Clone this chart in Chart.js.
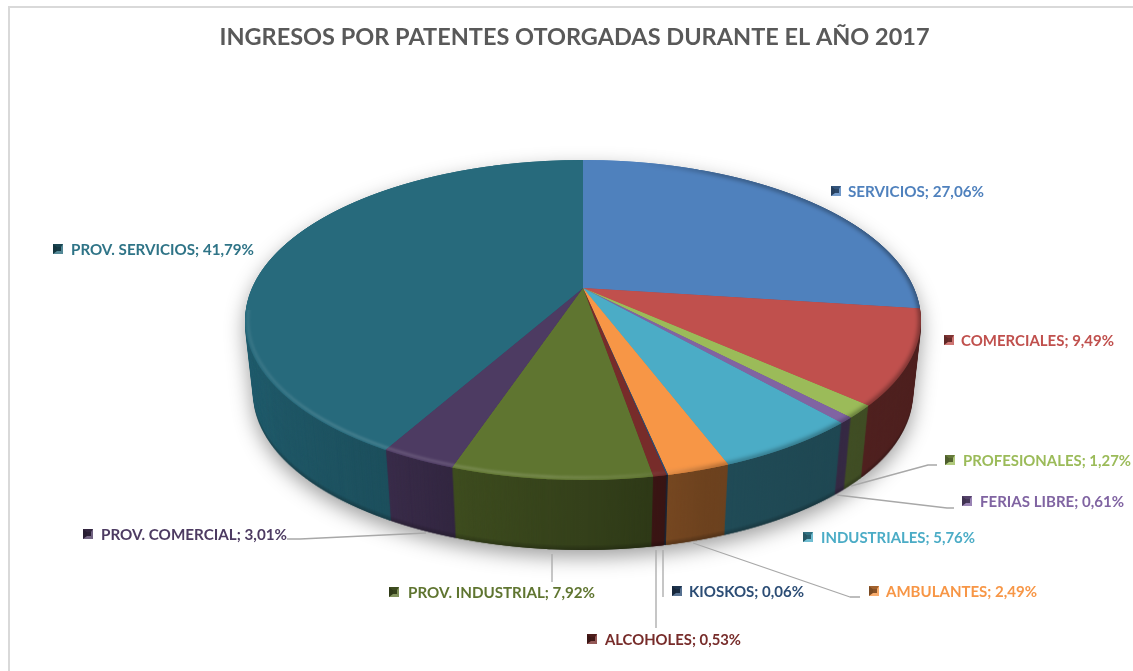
<!DOCTYPE html>
<html lang="es">
<head>
<meta charset="utf-8">
<title>Ingresos por patentes</title>
<script src="https://cdn.jsdelivr.net/npm/chart.js@4"></script>
<style>html,body{margin:0;padding:0;background:#fff}canvas{display:block}</style>
</head>
<body>
<canvas id="c" width="1133" height="671"></canvas>
<script>
const categories = ["SERVICIOS","COMERCIALES","PROFESIONALES","FERIAS LIBRE","INDUSTRIALES","AMBULANTES","KIOSKOS","ALCOHOLES","PROV. INDUSTRIAL","PROV. COMERCIAL","PROV. SERVICIOS"];
const shares = [27.06,9.49,1.27,0.61,5.76,2.49,0.06,0.53,7.92,3.01,41.79];
const sliceColors = ["#4f81bd","#c0504d","#9bbb59","#8064a2","#4bacc6","#f79646","#2c4d75","#772c2a","#5f7530","#4d3b62","#276a7c"];
const titleText = "INGRESOS POR PATENTES OTORGADAS DURANTE EL AÑO 2017";

// label layout: [marker centre x, marker centre y, text start x, text width]
const labelBoxes = [[836,191,848,136],[949,340,961,153],[950,460,963,168],[967,501,980,144],[808,537,821,154],[874,591,886,151],[677,591,689,115],[592,639,605,136],[394,592,408,187],[88,534,101,186],[58,249,71,183]];
const leaderLines = [null,null,[[851,486],[928,465],[937,465]],[[837,495],[947,508],[954,508]],null,[[693,543],[850,597],[860,597]],[[663,550],[663,597]],[[656,550],[656,628]],[[552,554],[552,582]],[[426,533],[300,539],[287,539]],null];

// projection of the flat pie onto the tilted view
const view = {cx:583, cy:288, a:331, b:153.6, k:0.2, top:-128, bottom:192, depth:74.8, shrink:0.975, wallH:70};

function blank(){const c=document.createElement('canvas');c.width=1133;c.height=671;return c;}

function renderFlat(chart){
  const cv=blank(), g=cv.getContext('2d');
  const els=chart.getDatasetMeta(0).data;
  const R=els[0].outerRadius, ox=els[0].x, oy=els[0].y;
  for(let r=view.top;r<view.bottom;r++){
    const yc=r+0.5, Y=yc/(view.b+view.k*yc), w=1-view.k*Y;
    const sx=view.a/w/R, sy=view.b/(w*w)/R;
    g.save();
    g.beginPath();g.rect(0,view.cy+r,1133,1);g.clip();
    g.setTransform(sx,0,0,sy,view.cx-sx*ox,view.cy+yc-sy*(oy+Y*R));
    for(let pass=0;pass<2;pass++)els.forEach(e=>e.draw(g));
    g.restore();
  }
  return cv;
}

function renderTop(flat){
  const cv=blank(), g=cv.getContext('2d');
  g.drawImage(flat,0,0);
  // rim: soft highlight on the near-left edge, soft shade on the right edge
  const ecy=view.cy+(view.top+view.bottom)/2, erx=338, ery=(view.bottom-view.top)/2;
  g.globalCompositeOperation='source-atop';
  const hi=g.createLinearGradient(245,0,921,0);
  hi.addColorStop(0,'rgba(255,255,255,.08)');hi.addColorStop(.12,'rgba(255,255,255,.14)');hi.addColorStop(.45,'rgba(255,255,255,.16)');hi.addColorStop(.62,'rgba(255,255,255,.06)');hi.addColorStop(.7,'rgba(255,255,255,0)');
  g.filter='blur(1px)';
  g.strokeStyle=hi;g.lineWidth=2.5;
  g.save();g.beginPath();g.rect(0,ecy-10,1133,400);g.clip();
  g.beginPath();g.ellipse(view.cx,ecy,erx-3,ery-2.5,0,0,Math.PI*2);g.stroke();g.restore();
  const lo=g.createLinearGradient(245,0,921,0);
  lo.addColorStop(.58,'rgba(0,0,0,0)');lo.addColorStop(.7,'rgba(0,0,0,.3)');lo.addColorStop(1,'rgba(0,0,0,.4)');
  g.filter='blur(2px)';
  g.strokeStyle=lo;g.lineWidth=5;
  g.beginPath();g.ellipse(view.cx,ecy,erx,ery,0,0,Math.PI*2);g.stroke();
  g.filter='none';
  g.globalCompositeOperation='source-over';
  return cv;
}

function renderWall(flat){
  const cv=blank(), g=cv.getContext('2d');
  for(let d=view.wallH;d>=1;d--){
    const t=d/view.wallH, s=1-(1-view.shrink)*t, dy=view.depth*t;
    g.setTransform(s,0,0,s,view.cx*(1-s),view.cy*(1-s)+dy);
    g.drawImage(flat,0,0);
    g.setTransform(1,0,0,1,0,0);
    if(d>view.wallH-5){g.globalCompositeOperation='source-atop';g.fillStyle='rgba(0,0,0,.05)';g.fillRect(0,0,1133,671);g.globalCompositeOperation='source-over';}
  }
  const sh=g.createLinearGradient(245,0,921,0);
  [[0,.12],[.06,.18],[.21,.25],[.33,.36],[.55,.48],[.68,.56],[1,.6]].forEach(p=>sh.addColorStop(p[0],'rgba(0,0,0,'+p[1]+')'));
  g.globalCompositeOperation='source-atop';g.fillStyle=sh;g.fillRect(0,0,1133,671);
  g.globalCompositeOperation='source-over';
  return cv;
}

function marker(ctx,mx,my,col){
  const h=5,x0=mx-h,x1=mx+h,y0=my-h,y1=my+h,ix0=mx-1,ix1=mx+3,iy0=my-2,iy1=my+2;
  ctx.fillStyle=col;ctx.fillRect(x0,y0,10,10);
  const tri=(pts,fill)=>{ctx.fillStyle=fill;ctx.beginPath();pts.forEach((p,i)=>i?ctx.lineTo(p[0],p[1]):ctx.moveTo(p[0],p[1]));ctx.closePath();ctx.fill();};
  tri([[x0,y0],[x1,y0],[ix1,iy0],[ix0,iy0]],'rgba(0,0,0,.35)');
  tri([[x0,y0],[ix0,iy0],[ix0,iy1],[x0,y1]],'rgba(0,0,0,.5)');
  tri([[x0,y1],[x1,y1],[ix1,iy1],[ix0,iy1]],'rgba(255,255,255,.22)');
  tri([[x1,y0],[x1,y1],[ix1,iy1],[ix1,iy0]],'rgba(255,255,255,.2)');
  tri([[ix0,iy0],[ix1,iy0],[ix1,iy1],[ix0,iy1]],'rgba(0,0,0,.45)');
}

const piePlugin = {
  id:'tiltedPie',
  beforeDraw(chart){
    const c=chart.ctx;
    c.save();c.strokeStyle='#d9d9d9';c.lineWidth=2;
    c.beginPath();c.moveTo(9,671);c.lineTo(9,7);c.lineTo(1133,7);c.stroke();c.restore();
  },
  beforeDatasetsDraw(chart){
    const c=chart.ctx;
    const flat=renderFlat(chart), topCv=renderTop(flat), wallCv=renderWall(flat);
    c.save();
    c.shadowColor='rgba(0,0,0,.38)';c.shadowBlur=20;c.shadowOffsetY=7;
    c.drawImage(wallCv,0,0);
    c.restore();
    c.drawImage(topCv,0,0);
    return false;
  },
  afterDraw(chart){
    const c=chart.ctx;
    c.save();
    c.strokeStyle='#a8a8a8';c.lineWidth=1.3;c.lineJoin='round';
    leaderLines.forEach(l=>{if(!l)return;c.beginPath();l.forEach((p,i)=>i?c.lineTo(p[0],p[1]):c.moveTo(p[0],p[1]));c.stroke();});
    c.font='bold 16px Lato, sans-serif';c.textBaseline='middle';c.textAlign='left';
    categories.forEach((name,i)=>{
      const b=labelBoxes[i], txt=name+'; '+shares[i].toFixed(2).replace('.',',')+'%';
      marker(c,b[0],b[1],sliceColors[i]);
      c.fillStyle=sliceColors[i]==='#276a7c'?'#2f7487':sliceColors[i];
      c.fillText(txt,b[2],b[1]+1,b[3]);
    });
    c.restore();
  }
};

new Chart(document.getElementById('c'),{
  type:'pie',
  data:{labels:categories,datasets:[{data:shares,backgroundColor:sliceColors,borderWidth:0}]},
  options:{
    responsive:false,animation:false,
    layout:{padding:{left:16,top:8,bottom:20,right:0}},
    plugins:{
      legend:{display:false},tooltip:{enabled:false},
      title:{display:true,text:titleText,color:'#595959',font:{family:'Lato, sans-serif',size:23.5,weight:'bold'},padding:{top:15,bottom:10}}
    }
  },
  plugins:[piePlugin]
});
</script>
</body>
</html>
